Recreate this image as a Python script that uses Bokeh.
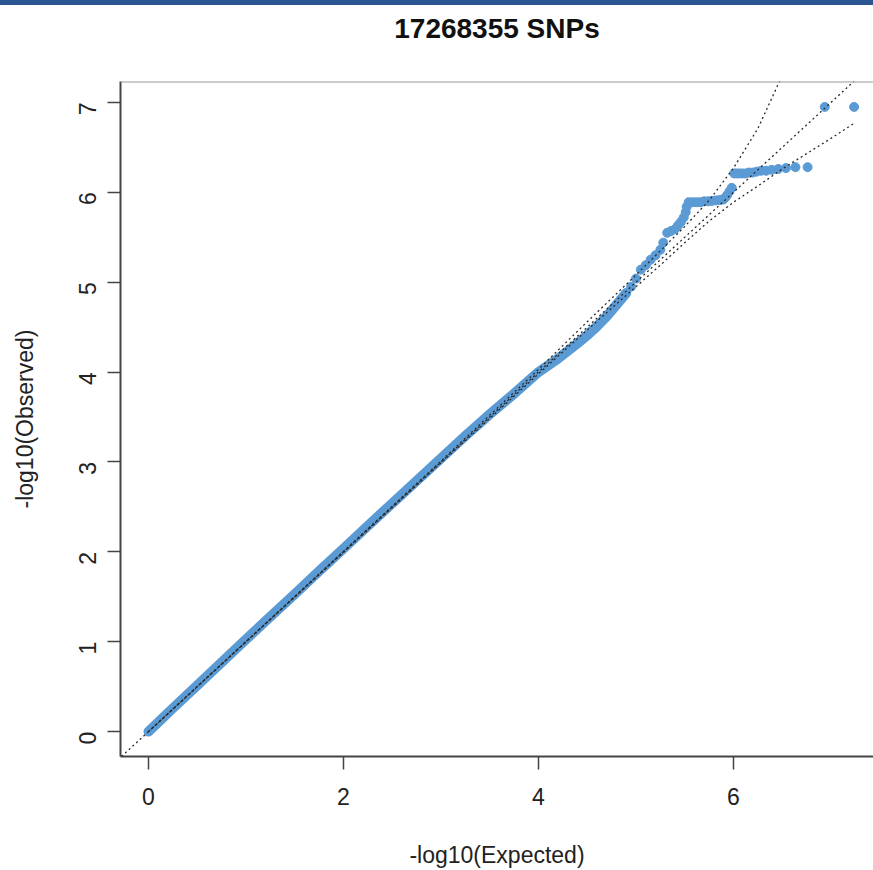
import math
from bokeh.plotting import figure
from bokeh.models import Range1d, FixedTicker, Slope, Div, Span, Title
from bokeh.layouts import column
from bokeh.embed import file_html
from bokeh.resources import INLINE

title_text = "17268355 SNPs"
x_label = "-log10(Expected)"
y_label = "-log10(Observed)"
x_ticks = [0, 2, 4, 6]
y_ticks = [0, 1, 2, 3, 4, 5, 6, 7]

# dense body of the QQ cloud (expected, observed) read along the band
band_exp = [0.0, 0.25, 0.5, 0.75, 1.0, 1.25, 1.5, 1.75, 2.0, 2.25, 2.5, 2.75,
            3.0, 3.25, 3.5, 3.75, 4.0, 4.2, 4.4, 4.5, 4.6, 4.7, 4.8, 4.9]
band_obs = [0.0, 0.26, 0.515, 0.77, 1.025, 1.28, 1.53, 1.785, 2.035, 2.29, 2.54, 2.79,
            3.04, 3.29, 3.53, 3.76, 4.0, 4.15, 4.32, 4.41, 4.51, 4.62, 4.75, 4.88]

# individual points of the upper tail
tail_exp = [4.95, 5.0, 5.05, 5.1, 5.15, 5.2, 5.25, 5.28, 5.32, 5.36, 5.40, 5.43,
            5.46, 5.49, 5.51, 5.52, 5.54, 5.58, 5.62, 5.66, 5.70, 5.74, 5.78, 5.82,
            5.86, 5.895, 5.915, 5.936, 5.959, 5.982, 6.007, 6.033, 6.061, 6.091,
            6.123, 6.158, 6.196, 6.237, 6.283, 6.334, 6.392, 6.459, 6.538, 6.635,
            6.76, 6.936, 7.237]
tail_obs = [4.95, 5.04, 5.14, 5.19, 5.25, 5.30, 5.36, 5.44, 5.55, 5.57, 5.59, 5.63,
            5.67, 5.72, 5.78, 5.84, 5.89, 5.89, 5.89, 5.89, 5.90, 5.90, 5.905, 5.91,
            5.915, 5.92, 5.94, 5.97, 6.01, 6.05, 6.21, 6.21, 6.21, 6.21,
            6.21, 6.22, 6.22, 6.23, 6.24, 6.24, 6.25, 6.26, 6.27, 6.28,
            6.28, 6.95, 6.95]

# confidence band curves
ci_exp = [0.0, 3.0, 4.0, 4.5, 5.0, 5.25, 5.5, 5.75, 6.0, 6.25, 6.5, 6.75, 7.0, 7.24]
ci_hi = [0.0, 3.01, 4.03, 4.56, 5.08, 5.35, 5.62, 5.91, 6.27, 6.71, 7.3, 8.0, 8.6, 9.0]
ci_lo = [0.0, 2.99, 3.98, 4.47, 4.95, 5.19, 5.44, 5.68, 5.89, 6.07, 6.26, 6.43, 6.6, 6.77]

FONT = "Liberation Sans"
BLUE = "#5b9bd5"
DOT = "#2a2a2a"

p = figure(width=873, height=865, output_backend="svg", toolbar_location=None,
           x_range=Range1d(-0.287, 7.436), y_range=Range1d(-0.277, 7.233),
           min_border_left=120, min_border_right=0, min_border_bottom=111,
           min_border_top=76, outline_line_color=None,
           background_fill_color="white", border_fill_color="white")

# main title (outer position)
p.title.text = title_text
p.title.align = "center"
p.title.text_font = FONT
p.title.text_font_size = "28px"
p.title.text_font_style = "bold"
p.title.text_color = "#111111"
p.title.standoff = 6

# spacer between the frame and the main title (stacked nearest the frame)
p.add_layout(Title(text="\u00a0", text_font=FONT, text_font_size="28px",
                   standoff=2), "above")

p.grid.visible = False

for ax in (p.xaxis[0], p.yaxis[0]):
    ax.axis_line_width = 2
    ax.axis_line_color = "#444444"
    ax.major_tick_line_color = "#444444"
    ax.major_tick_line_width = 1.5
    ax.major_tick_in = 0
    ax.major_tick_out = 13
    ax.minor_tick_line_color = None
    ax.major_label_text_font = FONT
    ax.major_label_text_font_size = "23px"
    ax.major_label_text_color = "#222222"
    ax.axis_label_text_font = FONT
    ax.axis_label_text_font_size = "23px"
    ax.axis_label_text_font_style = "normal"
    ax.axis_label_text_color = "#222222"

p.xaxis.ticker = FixedTicker(ticks=x_ticks)
p.yaxis.ticker = FixedTicker(ticks=y_ticks)
p.xaxis.axis_label = x_label
p.yaxis.axis_label = y_label
p.xaxis.major_label_standoff = 18
p.xaxis.axis_label_standoff = 34
p.yaxis.major_label_standoff = 20
p.yaxis.axis_label_standoff = 30
p.yaxis.major_label_orientation = math.pi / 2

# top edge of the plot box
p.add_layout(Span(location=p.y_range.end, dimension="width",
                  line_color="#999999", line_width=2))

p.line(band_exp, band_obs, line_width=10, line_color=BLUE,
       line_cap="round", line_join="round")
p.scatter(tail_exp, tail_obs, size=9, fill_color=BLUE, line_color=BLUE)

p.add_layout(Slope(gradient=1, y_intercept=0, line_color=DOT,
                   line_dash="2 3", line_width=1.3))
p.line(ci_exp, ci_hi, line_color=DOT, line_dash="2 3", line_width=1.3)
p.line(ci_exp, ci_lo, line_color=DOT, line_dash="2 3", line_width=1.3)

bar = Div(text="", width=873, height=5, margin=0,
          styles={"background-color": "#2d5592"})

layout = column(bar, p, spacing=0)
open("out.html", "w").write(file_html(layout, INLINE))
